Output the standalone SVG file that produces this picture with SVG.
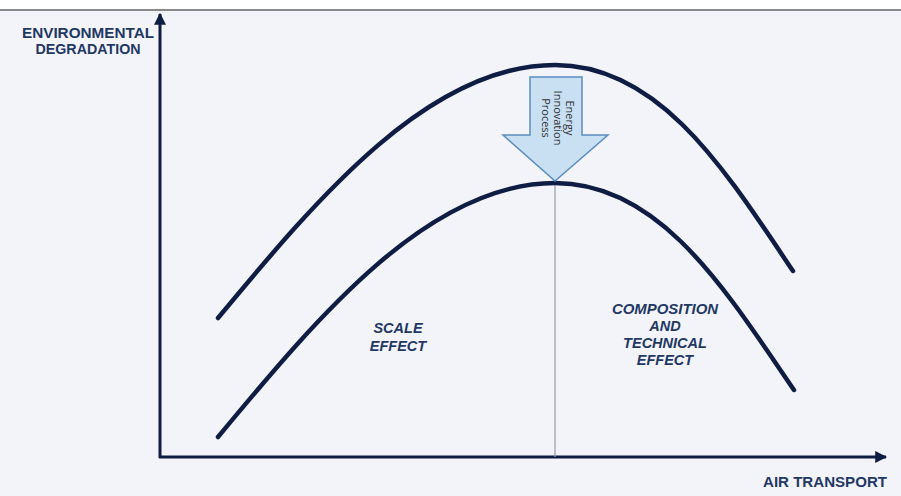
<svg xmlns="http://www.w3.org/2000/svg" width="901" height="496" viewBox="0 0 901 496">
<defs>
<style>
.curve{fill:none;stroke:#0f1d45;stroke-width:4.5;stroke-linecap:round}
.axis{fill:none;stroke:#0f1d45;stroke-width:3}
.lbl{font-family:"Liberation Sans",Arial,sans-serif;font-weight:bold;fill:#1f3864;text-anchor:middle}
.it{font-style:italic;font-size:14.5px}
</style>
<marker id="ah" viewBox="0 0 10 10" refX="9" refY="5" markerWidth="4" markerHeight="4" orient="auto" markerUnits="strokeWidth"><path d="M0,0 L10,5 L0,10 Z" fill="#0f1d45"/></marker>
</defs>
<rect width="901" height="496" fill="#f3f3fa"/>
<rect width="901" height="10" fill="#ffffff"/>
<line x1="0" y1="10" x2="901" y2="10" stroke="#666" stroke-width="1.5"/>
<g id="connectors">
<line class="axis" x1="160" y1="458" x2="160" y2="14" marker-end="url(#ah)"/>
<line class="axis" x1="159" y1="457" x2="886" y2="457" marker-end="url(#ah)"/>
<line x1="555" y1="183" x2="555" y2="457" stroke="#9a9aa6" stroke-width="1.2"/>
</g>
<g id="upper-curve">
<path class="curve" d="M218,318 C320,195 430,65 555,65 C660,65 725,170 793,271"/>
</g>
<g id="lower-curve">
<path class="curve" d="M218,437 C320,314 430,183 555,183 C660,183 725,289 794,390"/>
</g>
<g id="energy-arrow">
<path d="M530,77 L582,77 L582,135 L608,135 L555,181 L503,135 L530,135 Z" fill="#c8e0f2" stroke="#5b8cc0" stroke-width="1.5"/>
<g font-family="'Open Sans','Liberation Sans',sans-serif" font-size="11" fill="#333" text-anchor="middle">
<text transform="translate(566,118) rotate(90)">Energy</text>
<text transform="translate(554,118) rotate(90)">Innovation</text>
<text transform="translate(542,118) rotate(90)">Process</text>
</g>
</g>
<g id="y-label">
<text class="lbl" x="88" y="38" font-size="14" textLength="132" lengthAdjust="spacingAndGlyphs">ENVIRONMENTAL</text>
<text class="lbl" x="88" y="54" font-size="14" textLength="105" lengthAdjust="spacingAndGlyphs">DEGRADATION</text>
</g>
<g id="x-label">
<text class="lbl" x="825" y="487" font-size="14" textLength="124" lengthAdjust="spacingAndGlyphs">AIR TRANSPORT</text>
</g>
<g id="scale-effect">
<text class="lbl it" x="398" y="333">SCALE</text>
<text class="lbl it" x="398" y="351">EFFECT</text>
</g>
<g id="composition-effect">
<text class="lbl it" x="665" y="314" textLength="106" lengthAdjust="spacingAndGlyphs">COMPOSITION</text>
<text class="lbl it" x="665" y="331">AND</text>
<text class="lbl it" x="665" y="348">TECHNICAL</text>
<text class="lbl it" x="665" y="365">EFFECT</text>
</g>
</svg>
